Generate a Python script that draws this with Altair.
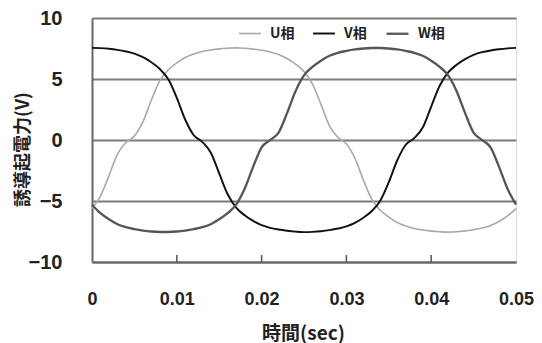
import altair as alt
import pandas as pd

# time axis (ms) and induced EMF of each phase (V)
TIME_MS = list(range(0, 51))
U = [-5.62, -4.60, -2.92, -1.16, -0.20, 0.32, 1.48, 3.28, 4.86, 5.76, 6.32, 6.76, 7.05, 7.25, 7.38, 7.47, 7.52,
     7.55, 7.52, 7.45, 7.36, 7.22, 7.00, 6.68, 6.22, 5.62, 4.60, 2.92, 1.16, 0.20, -0.32, -1.48, -3.28, -4.86,
     -5.76, -6.32, -6.76, -7.05, -7.25, -7.38, -7.47, -7.52, -7.55, -7.52, -7.45, -7.36, -7.22, -7.00, -6.68,
     -6.22, -5.62]
V = [7.55, 7.53, 7.48, 7.39, 7.26, 7.08, 6.79, 6.37, 5.82, 4.97, 3.46, 1.66, 0.39, -0.15, -1.02, -2.74, -4.45,
     -5.54, -6.17, -6.63, -6.98, -7.20, -7.34, -7.44, -7.51, -7.55, -7.53, -7.48, -7.39, -7.26, -7.08, -6.79,
     -6.37, -5.82, -4.97, -3.46, -1.66, -0.39, 0.15, 1.02, 2.74, 4.45, 5.54, 6.17, 6.63, 6.98, 7.20, 7.34, 7.44,
     7.51, 7.55]
W = [-5.30, -6.00, -6.50, -6.90, -7.15, -7.30, -7.42, -7.50, -7.54, -7.54, -7.50, -7.42, -7.30, -7.15, -6.90,
     -6.50, -6.00, -5.30, -4.00, -2.20, -0.60, 0.00, 0.60, 2.20, 4.00, 5.30, 6.00, 6.50, 6.90, 7.15, 7.30, 7.42,
     7.50, 7.54, 7.54, 7.50, 7.42, 7.30, 7.15, 6.90, 6.50, 6.00, 5.30, 4.00, 2.20, 0.60, 0.00, -0.60, -2.20,
     -4.00, -5.30]

SERIES = ["U相", "V相", "W相"]
COLORS = ["#a9a9a9", "#111111", "#555555"]
WIDTHS = [1.6, 2.3, 1.9]
X_TICKS = [0, 0.01, 0.02, 0.03, 0.04, 0.05]
X_MINOR = [0.01, 0.02, 0.03, 0.04]
Y_TICKS = [-10, -5, 0, 5, 10]

rows = []
for name, vals in zip(SERIES, [U, V, W]):
    for t, v in zip(TIME_MS, vals):
        rows.append({"t": t / 1000.0, "v": v, "phase": name})
df = pd.DataFrame(rows)
ticks_df = pd.DataFrame({"t": X_MINOR})

W_PLOT, H_PLOT = 424, 244
NUM_FONT = "Liberation Sans"
JP_FONT = "Noto Sans CJK JP"

x_enc = alt.X(
    "t:Q",
    scale=alt.Scale(domain=[0, 0.05], nice=False, zero=False),
    axis=alt.Axis(
        values=X_TICKS, format="~g", title="時間(sec)", grid=False, ticks=False,
        labelFlush=False, labelOverlap=False,
        labelPadding=28, labelFont=NUM_FONT, labelFontSize=18, labelFontWeight="bold",
        labelColor="#222222", domainColor="#666666", domainWidth=2,
        titleFont=JP_FONT, titleFontSize=19, titleFontWeight="bold", titleColor="#222222",
        titleX=211, titleY=71, titleBaseline="middle", titleAlign="center",
    ),
)
y_enc = alt.Y(
    "v:Q",
    scale=alt.Scale(domain=[-10, 10], nice=False),
    axis=alt.Axis(
        values=Y_TICKS, format="d", title="誘導起電力(V)", grid=True, ticks=False,
        gridColor="#7a7a7a", gridWidth=2, labelPadding=30, labelFont=NUM_FONT,
        labelFontSize=20, labelFontWeight="bold", labelColor="#222222",
        domainColor="#666666", domainWidth=2,
        titleFont=JP_FONT, titleFontSize=18, titleFontWeight="bold", titleColor="#222222",
        titleX=-69, titleY=131, titleBaseline="middle", titleAlign="center", titleAngle=270,
    ),
)

lines = alt.Chart(df).mark_line(interpolate="monotone").encode(
    x=x_enc,
    y=y_enc,
    color=alt.Color(
        "phase:N",
        scale=alt.Scale(domain=SERIES, range=COLORS),
        legend=alt.Legend(
            title=None, orient="none", legendX=146, legendY=3, direction="horizontal",
            symbolType="stroke", symbolSize=480, symbolStrokeWidth=2,
            labelFont=JP_FONT, labelFontSize=14, labelFontWeight="bold", labelColor="#222222",
            labelOffset=8, columnPadding=14, padding=0,
        ),
    ),
    strokeWidth=alt.StrokeWidth("phase:N", scale=alt.Scale(domain=SERIES, range=WIDTHS), legend=None),
)

tick_marks = alt.Chart(ticks_df).mark_rule(color="#555555", strokeWidth=1.5).encode(
    x="t:Q", y=alt.value(H_PLOT - 7), y2=alt.value(H_PLOT)
)

chart = alt.layer(tick_marks, lines).properties(
    width=W_PLOT,
    height=H_PLOT,
    autosize=alt.AutoSizeParams(type="none"),
    padding={"left": 84, "top": 10, "right": 18, "bottom": 81},
).configure_view(stroke="#808080", strokeWidth=2).configure(background="white")

chart.save("out.html", embed_options={"renderer": "svg", "actions": False})
